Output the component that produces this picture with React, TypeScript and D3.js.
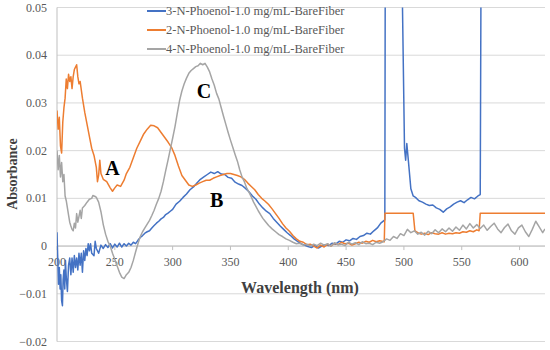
import React from 'react'
import * as d3 from 'd3'

// [wavelength nm, absorbance]
const series3N: [number, number][] = [
  [200, 0.0029], [200.7, -0.003], [201.3, -0.008], [202, -0.0045], [202.7, -0.009], [203.3, -0.006],
  [204, -0.0115], [204.7, -0.0125], [205.3, -0.007], [206, -0.005], [206.7, -0.009], [207.3, -0.003],
  [208, -0.0065], [209, -0.0095], [210, -0.004], [211, -0.0025], [212, -0.006], [213, -0.0025],
  [214, -0.0055], [215, -0.002], [216, -0.0045], [217, -0.0025], [218, -0.005], [219, -0.0015],
  [220, -0.004], [221, -0.0015], [222, -0.0055], [223, -0.001], [224, -0.003], [225, -0.0005],
  [226, -0.002], [227, 0.0005], [228, -0.001], [229, 0.0005], [230, -0.0015], [232, -0.002],
  [233, 0.001], [234, -0.0005], [236, -0.0015], [238, 0.0002], [240, -0.0005], [242, 0.0003],
  [244, -0.0003], [246, 0.0005], [248, -0.0004], [250, 0.0004], [252, -0.0002], [254, 0.0006],
  [256, -0.0002], [258, 0.0005], [260, 0.0], [262, 0.0006], [264, 0.0002], [266, 0.0008],
  [268, 0.0005], [270, 0.0012], [272, 0.0018], [274, 0.0022], [276, 0.0027], [278, 0.003],
  [280, 0.0032], [282, 0.0038], [284, 0.0043], [286, 0.0048], [288, 0.0052], [290, 0.0057],
  [292, 0.006], [294, 0.0066], [296, 0.0069], [298, 0.0073], [300, 0.0077], [303, 0.0088],
  [306, 0.0094], [309, 0.0102], [312, 0.0109], [315, 0.0118], [318, 0.0124], [321, 0.0132],
  [324, 0.014], [327, 0.0145], [330, 0.015], [333, 0.0155], [336, 0.0152], [339, 0.0156],
  [342, 0.0151], [345, 0.015], [348, 0.0144], [351, 0.0142], [354, 0.0134], [357, 0.013],
  [360, 0.0127], [363, 0.0121], [366, 0.0114], [369, 0.0105], [372, 0.0098], [375, 0.0088],
  [378, 0.008], [381, 0.0073], [384, 0.0068], [387, 0.0058], [390, 0.005], [393, 0.0042],
  [396, 0.0035], [399, 0.0028], [402, 0.0022], [405, 0.0015], [408, 0.001], [411, 0.0005],
  [414, 0.0002], [417, -0.0001], [420, -0.0003], [423, 0.0001], [426, -0.0004], [429, 0.0],
  [432, 0.0003], [435, 0.0001], [438, 0.0006], [441, 0.0004], [444, 0.001], [447, 0.0008],
  [450, 0.0013], [453, 0.0011], [456, 0.0016], [459, 0.0014], [462, 0.002], [465, 0.0022],
  [468, 0.0027], [471, 0.0025], [474, 0.0032], [477, 0.0038], [480, 0.0048], [483.5, 0.0055],
  [484, 0.08], [497, 0.08], [500.5, 0.0205], [501.5, 0.018], [502.5, 0.0215], [504, 0.0175],
  [506, 0.012], [508, 0.0105], [510, 0.0102], [513, 0.0095], [516, 0.0092], [519, 0.0088],
  [522, 0.0085], [525, 0.0086], [528, 0.008], [531, 0.0077], [534, 0.0071], [537, 0.0078],
  [540, 0.0082], [543, 0.0088], [546, 0.0092], [549, 0.0095], [552, 0.0091], [555, 0.0097],
  [558, 0.0102], [561, 0.0099], [564, 0.0105], [566, 0.0108], [567, 0.08], [622, 0.08],
]

const series2N: [number, number][] = [
  [200, 0.0284], [201, 0.0245], [202, 0.027], [203, 0.021], [204, 0.0195], [205, 0.026],
  [206, 0.029], [207, 0.031], [208, 0.035], [209, 0.033], [210, 0.036], [211, 0.0345],
  [212, 0.0355], [213, 0.033], [214, 0.0355], [215, 0.037], [216, 0.0375], [217, 0.038],
  [218, 0.0355], [219, 0.034], [220, 0.0345], [222, 0.031], [224, 0.028], [226, 0.0255],
  [228, 0.023], [230, 0.0205], [232, 0.019], [234, 0.0165], [235, 0.0135], [236, 0.0148],
  [237, 0.018], [238, 0.0152], [240, 0.014], [243, 0.0135], [246, 0.0122], [248, 0.0115],
  [250, 0.0122], [252, 0.0128], [255, 0.0125], [258, 0.0138], [260, 0.0152], [263, 0.0165],
  [266, 0.0185], [269, 0.0205], [272, 0.022], [275, 0.0235], [278, 0.0245], [281, 0.0253],
  [284, 0.0252], [287, 0.0248], [290, 0.0238], [293, 0.0228], [296, 0.0218], [299, 0.0207],
  [302, 0.019], [305, 0.0168], [308, 0.0148], [311, 0.0138], [314, 0.0128], [317, 0.0125],
  [320, 0.0128], [323, 0.0132], [326, 0.0135], [329, 0.0138], [332, 0.0138], [335, 0.0142],
  [338, 0.0145], [341, 0.0148], [344, 0.015], [347, 0.0152], [350, 0.0152], [353, 0.015],
  [356, 0.0148], [359, 0.0145], [362, 0.014], [365, 0.0132], [368, 0.0125], [371, 0.0118],
  [374, 0.0108], [377, 0.01], [380, 0.0094], [383, 0.0087], [386, 0.0078], [389, 0.0068],
  [392, 0.0058], [395, 0.0047], [398, 0.0038], [401, 0.0031], [404, 0.0022], [407, 0.0015],
  [410, 0.001], [413, 0.0008], [416, 0.0003], [419, 0.0004], [422, 0.0], [425, -0.0004],
  [428, 0.0002], [431, -0.0002], [434, 0.0004], [437, 0.0], [440, 0.0006], [443, 0.0003],
  [446, 0.0008], [449, 0.0005], [452, 0.0006], [455, 0.0002], [458, 0.0005], [461, 0.0008],
  [464, 0.0006], [467, 0.001], [470, 0.0008], [473, 0.0012], [476, 0.0009], [479, 0.0011],
  [483, 0.0009], [483.6, 0.0069], [508, 0.0069], [509.5, 0.0032], [512, 0.0028], [515, 0.0025],
  [518, 0.0027], [521, 0.0024], [524, 0.0028], [527, 0.0026], [530, 0.0025], [533, 0.0028],
  [536, 0.0025], [539, 0.0027], [542, 0.0026], [545, 0.0028], [548, 0.0027], [551, 0.003],
  [554, 0.0029], [557, 0.0032], [560, 0.003], [563, 0.0034], [565, 0.0032], [566, 0.0069],
  [622, 0.0069],
]

const series4N: [number, number][] = [
  [200, 0.02], [201, 0.016], [202, 0.019], [203, 0.0145], [204, 0.0175], [205, 0.0135],
  [206, 0.015], [207, 0.0105], [208, 0.0095], [209, 0.008], [210, 0.0065], [211, 0.005],
  [212, 0.0042], [213, 0.0035], [214, 0.0032], [215, 0.0048], [216, 0.0038], [217, 0.0068],
  [218, 0.005], [219, 0.0062], [220, 0.0075], [221, 0.0058], [222, 0.008], [224, 0.0085],
  [226, 0.0092], [228, 0.0098], [230, 0.01], [231, 0.0106], [233, 0.0104], [234, 0.0102],
  [236, 0.0092], [238, 0.0072], [240, 0.0045], [242, 0.0025], [244, 0.001], [246, 0.0],
  [248, -0.0015], [250, -0.0028], [252, -0.0042], [254, -0.0055], [256, -0.0065], [258, -0.0068],
  [260, -0.006], [262, -0.0055], [264, -0.0045], [266, -0.003], [268, -0.0012], [270, 0.0005],
  [272, 0.002], [274, 0.003], [276, 0.0038], [278, 0.0046], [280, 0.0054], [282, 0.0064],
  [284, 0.0075], [286, 0.0088], [288, 0.01], [290, 0.0115], [292, 0.0135], [294, 0.0158],
  [296, 0.018], [298, 0.0203], [300, 0.0226], [302, 0.025], [304, 0.0278], [306, 0.0305],
  [308, 0.0325], [310, 0.034], [312, 0.0352], [314, 0.0362], [316, 0.0368], [318, 0.0372],
  [320, 0.0376], [322, 0.0378], [324, 0.0383], [326, 0.038], [328, 0.0383], [330, 0.0375],
  [332, 0.0365], [334, 0.035], [336, 0.0337], [338, 0.032], [340, 0.0308], [342, 0.029],
  [344, 0.0272], [346, 0.0255], [348, 0.0238], [350, 0.0222], [352, 0.0207], [354, 0.0192],
  [356, 0.0178], [358, 0.016], [360, 0.0145], [362, 0.0135], [364, 0.0122], [366, 0.0113],
  [368, 0.0103], [370, 0.0092], [372, 0.0083], [374, 0.0074], [376, 0.0066], [378, 0.0058],
  [380, 0.0052], [383, 0.0043], [386, 0.0036], [389, 0.003], [392, 0.0024], [395, 0.002],
  [398, 0.0015], [401, 0.0012], [404, 0.0008], [407, 0.0005], [410, 0.0006], [413, 0.0002],
  [416, 0.0004], [419, 0.0], [422, 0.0004], [425, 0.0001], [428, 0.0006], [431, 0.0002],
  [434, 0.0005], [437, 0.0], [440, 0.0007], [443, 0.0003], [446, 0.0004], [449, 0.0001],
  [452, 0.0008], [455, 0.0004], [458, 0.0007], [461, 0.0003], [464, 0.0009], [467, 0.0005],
  [470, 0.0006], [473, 0.0003], [476, 0.0008], [479, 0.0006], [482, 0.0009], [485, 0.0015],
  [488, 0.0012], [491, 0.002], [494, 0.0016], [497, 0.0026], [500, 0.0022], [503, 0.0035],
  [506, 0.0028], [509, 0.0032], [512, 0.0025], [515, 0.0029], [518, 0.0023], [521, 0.0031],
  [524, 0.0026], [527, 0.0034], [530, 0.0028], [533, 0.0036], [536, 0.003], [539, 0.0038],
  [542, 0.0031], [545, 0.004], [548, 0.0033], [551, 0.0044], [554, 0.0036], [557, 0.0047],
  [560, 0.0038], [563, 0.0045], [566, 0.0037], [569, 0.0044], [572, 0.0033], [575, 0.0041],
  [578, 0.0048], [581, 0.0036], [584, 0.0028], [587, 0.0039], [590, 0.0046], [593, 0.0032],
  [596, 0.0025], [599, 0.0038], [602, 0.0044], [605, 0.003], [608, 0.002], [611, 0.0035],
  [614, 0.0052], [617, 0.004], [620, 0.0028], [622, 0.0036],
]

const legendLabels = [
  '3-N-Phoenol-1.0 mg/mL-BareFiber',
  '2-N-Phoenol-1.0 mg/mL-BareFiber',
  '4-N-Phoenol-1.0 mg/mL-BareFiber',
]
const seriesColors = ['#4472c4', '#ed7d31', '#a5a5a5']
const xTicks = [200, 250, 300, 350, 400, 450, 500, 550, 600]
const yTicks = [-0.02, -0.01, 0, 0.01, 0.02, 0.03, 0.04, 0.05]
const peakLabels: { text: string; nm: number; abs: number }[] = [
  { text: 'A', nm: 248, abs: 0.0148 },
  { text: 'B', nm: 338, abs: 0.0082 },
  { text: 'C', nm: 327, abs: 0.031 },
]

const serif = '"Liberation Serif", "Times New Roman", serif'

export default function App() {
  const width = 550
  const height = 350
  const left = 57
  const right = 545
  const top = 7.5
  const bottom = 341.5

  const x = d3.scaleLinear().domain([200, 622]).range([left, right])
  const y = d3.scaleLinear().domain([-0.02, 0.05]).range([bottom, top])
  const line = d3.line<[number, number]>().x(d => x(d[0])).y(d => y(d[1]))

  const allSeries = [series3N, series2N, series4N]
  const y0 = y(0)

  return (
    <svg width={width} height={height} style={{ position: 'absolute', left: 0, top: 0, background: '#fff' }}>
      <defs>
        <clipPath id="plot">
          <rect x={left} y={top} width={right - left} height={bottom - top} />
        </clipPath>
      </defs>

      {/* gridlines */}
      {yTicks.map(t => (
        <line key={t} x1={left} x2={right} y1={y(t)} y2={y(t)} stroke="#d9d9d9" strokeWidth={1} />
      ))}
      <line x1={left} x2={left} y1={top} y2={bottom} stroke="#bfbfbf" strokeWidth={1} />
      <line x1={left} x2={right} y1={y0} y2={y0} stroke="#bfbfbf" strokeWidth={1} />
      {xTicks.map(t => (
        <line key={t} x1={x(t)} x2={x(t)} y1={y0} y2={y0 + 4} stroke="#bfbfbf" strokeWidth={1} />
      ))}

      {/* tick labels */}
      {yTicks.map(t => (
        <text key={t} x={47} y={y(t) + 4} textAnchor="end" fontFamily={serif} fontSize={12} fill="#595959">
          {t === 0 ? '0' : d3.format('.2f')(t).replace('-', '\u2212')}
        </text>
      ))}
      {xTicks.map(t => (
        <text key={t} x={x(t)} y={y0 + 20} textAnchor="middle" fontFamily={serif} fontSize={12} fill="#595959">
          {t}
        </text>
      ))}

      {/* axis titles */}
      <text transform={`translate(17, 174) rotate(-90)`} textAnchor="middle" fontFamily={serif}
        fontSize={14} fontWeight="bold" fill="#404040">Absorbance</text>
      <text x={300} y={293} textAnchor="middle" fontFamily={serif}
        fontSize={16} fontWeight="bold" fill="#404040">Wavelength (nm)</text>

      {/* series */}
      <g clipPath="url(#plot)">
        {allSeries.map((s, i) => (
          <path key={i} d={line(s) || ''} fill="none" stroke={seriesColors[i]} strokeWidth={1.5}
            strokeLinejoin="round" />
        ))}
      </g>

      {/* peak labels */}
      {peakLabels.map(p => (
        <text key={p.text} x={x(p.nm)} y={y(p.abs)} textAnchor="middle" fontFamily={serif}
          fontSize={20} fontWeight="bold" fill="#000">{p.text}</text>
      ))}

      {/* legend */}
      {legendLabels.map((l, i) => (
        <g key={l} transform={`translate(147, ${11 + i * 19})`}>
          <line x1={0} x2={19} y1={0} y2={0} stroke={seriesColors[i]} strokeWidth={2} />
          <text x={19} y={4} fontFamily={serif} fontSize={12.5} fill="#595959">{l}</text>
        </g>
      ))}
    </svg>
  )
}
